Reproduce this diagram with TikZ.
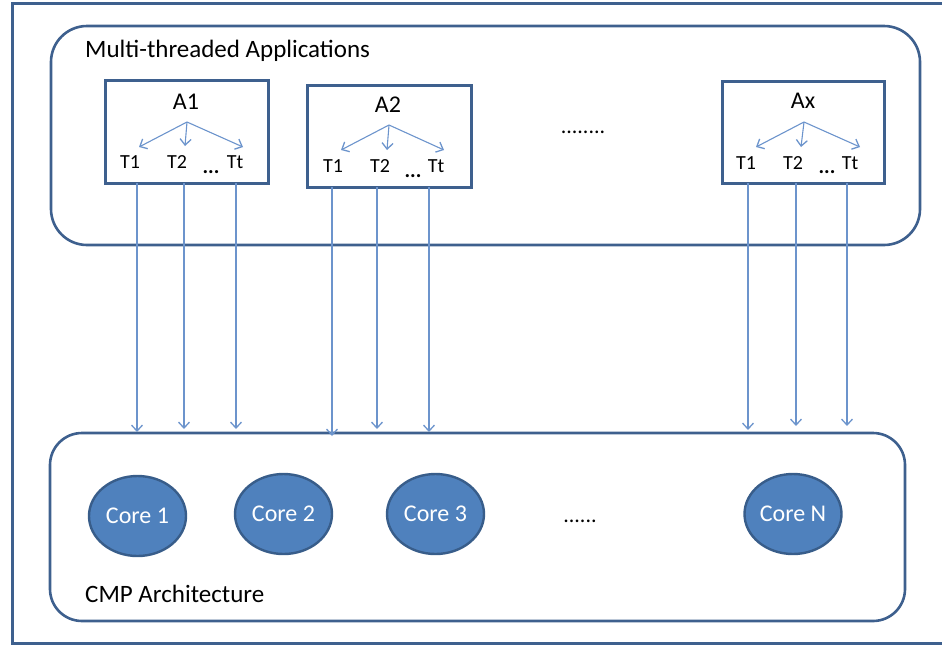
\documentclass[tikz,border=0pt]{standalone}
\usepackage{fontspec}
\setmainfont{Carlito}
\usetikzlibrary{arrows.meta,shapes.geometric}
\definecolor{frameblue}{RGB}{62,96,142}
\definecolor{linkblue}{RGB}{108,148,204}
\definecolor{corefill}{RGB}{79,129,189}
\definecolor{coreedge}{RGB}{56,93,138}
\begin{document}
\begin{tikzpicture}[x=1pt,y=-1pt,
  panel/.style={draw=frameblue,line width=2.6pt,inner sep=0pt},
  appbox/.style={draw=frameblue,line width=3pt,inner sep=0pt},
  core/.style={ellipse,draw=coreedge,line width=2.4pt,fill=corefill,
    minimum width=97pt,minimum height=80pt,inner sep=0pt,
    text=white,font=\fontsize{24}{28}\selectfont},
  link/.style={draw=linkblue,line width=1.3pt,
    -{Straight Barb[length=6pt,width=11pt,line width=1.3pt]}},
  caption/.style={inner sep=0pt,font=\fontsize{25}{29}\selectfont},
  apptitle/.style={inner sep=0pt,anchor=base,font=\fontsize{24}{28}\selectfont},
  thread/.style={inner sep=0pt,anchor=base,font=\fontsize{20}{24}\selectfont},
  threaddots/.style={inner sep=0pt,anchor=base,font=\fontsize{21}{24}\selectfont\bfseries},
  dots/.style={inner sep=0pt,anchor=base,font=\fontsize{22}{26}\selectfont}]
\useasboundingbox (0,0) rectangle (942,646);

% outer frame (open on the right)
\draw[frameblue,line width=3pt] (942,3) -- (12,3) -- (12,643) -- (942,643);

% application layer
\node[panel,rounded corners=36pt,minimum width=869pt,minimum height=219pt]
  (apps) at (485.5,135.5) {};
\node[caption,anchor=base west] (appstitle) at (85,57) {Multi-threaded Applications};

% the three application boxes
\node[appbox,minimum width=163pt,minimum height=103pt] (A1) at (186.5,131.5) {};
\node[appbox,minimum width=164pt,minimum height=102pt] (A2) at (389,136) {};
\node[appbox,minimum width=162pt,minimum height=102pt] (Ax) at (803,132) {};

\node[apptitle] (A1t) at (186,109) {A1};
\node[apptitle] (A2t) at (388,112) {A2};
\node[apptitle] (Axt) at (803,108) {Ax};

% thread labels
\node[thread] (A1T1) at (130,168) {T1};
\node[thread] (A1T2) at (177,168) {T2};
\node[threaddots] (A1Td) at (211,173) {...};
\node[thread] (A1Tt) at (235,168) {Tt};

\node[thread] (A2T1) at (333,172) {T1};
\node[thread] (A2T2) at (380,172) {T2};
\node[threaddots] (A2Td) at (413,177) {...};
\node[thread] (A2Tt) at (436,172) {Tt};

\node[thread] (AxT1) at (746,169) {T1};
\node[thread] (AxT2) at (793,169) {T2};
\node[threaddots] (AxTd) at (827,173) {...};
\node[thread] (AxTt) at (850,169) {Tt};

\node[dots] (appdots) at (583,133) {........};

% fork points and thread arrow ends
\coordinate (A1f) at (187,122);
\coordinate (A1e1) at (139,147);
\coordinate (A1e2) at (185,146);
\coordinate (A1e3) at (243,147);
\coordinate (A2f) at (389,125);
\coordinate (A2e1) at (341,150);
\coordinate (A2e2) at (387,150);
\coordinate (A2e3) at (444,150);
\coordinate (Axf) at (804,122);
\coordinate (Axe1) at (756,147);
\coordinate (Axe2) at (801,147);
\coordinate (Axe3) at (860,147);

\foreach \a in {A1,A2,Ax}{
  \foreach \k in {1,2,3}{
    \draw[link,line width=1.1pt] (\a f) -- (\a e\k);
  }
}

% CMP layer
\node[panel,rounded corners=32pt,minimum width=855pt,minimum height=188pt]
  (cmp) at (477.5,527) {};
\node[caption,anchor=base west] (cmptitle) at (85,602) {CMP Architecture};

\node[core] (c1) at (137.5,516) {Core 1};
\node[core] (c2) at (283.5,514) {Core 2};
\node[core] (c3) at (435.5,514) {Core 3};
\node[core] (cN) at (793,514) {Core N};
\node[dots] (coredots) at (580,522) {......};

% thread-to-core mapping lines
\foreach \n/\x/\ya/\yb in {
  a1/137/183/432, a2/184/183/429, a3/236/183/429,
  b1/332/187/436, b2/377/187/429, b3/429/187/432,
  x1/748/183/430, x2/796/183/426, x3/847/183/426}{
  \coordinate (\n s) at (\x,\ya);
  \coordinate (\n e) at (\x,\yb);
  \draw[link] (\n s) -- (\n e);
}
\end{tikzpicture}
\end{document}
